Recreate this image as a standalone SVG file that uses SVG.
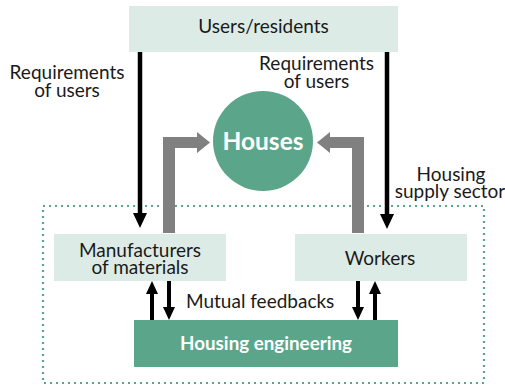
<svg xmlns="http://www.w3.org/2000/svg" width="505" height="386" viewBox="0 0 505 386">
<style>
.t{font-family:Lato,"Open Sans","Liberation Sans",sans-serif;font-size:19px;fill:#1a1a1a}
.tb{font-family:Lato,"Open Sans","Liberation Sans",sans-serif;font-weight:bold;fill:#ffffff}
.light{fill:#DDEBE6}
.dark{fill:#5BA68A}
.blk{stroke:#000;stroke-width:4.5;fill:none}
.fb{stroke:#000;stroke-width:4;fill:none}
.head{fill:#000}
.gray{fill:#808080}
</style>
<rect x="0" y="0" width="505" height="386" fill="#fff"/>
<g id="sector">
<rect x="43" y="206" width="441" height="177" fill="none" stroke="#5BA68A" stroke-width="2.2" stroke-dasharray="2 4"/>
<text class="t" text-anchor="middle"><tspan x="451" y="181">Housing</tspan><tspan x="450" y="198">supply sector</tspan></text>
</g>
<g id="users">
<rect class="light" x="129" y="6" width="269" height="46"/>
<text class="t" x="263.5" y="33" text-anchor="middle">Users/residents</text>
</g>
<g id="houses">
<circle class="dark" cx="263" cy="141" r="50"/>
<text class="tb" x="263" y="150" text-anchor="middle" font-size="24.5">Houses</text>
</g>
<g id="manufacturers">
<rect class="light" x="54" y="234" width="172" height="47"/>
<text class="t" text-anchor="middle"><tspan x="140" y="256.5">Manufacturers</tspan><tspan x="140" y="274">of materials</tspan></text>
</g>
<g id="workers">
<rect class="light" x="295" y="234" width="172" height="47"/>
<text class="t" x="380" y="265" text-anchor="middle">Workers</text>
</g>
<g id="engineering">
<rect class="dark" x="134" y="320" width="264" height="47"/>
<text class="tb" x="266" y="350" text-anchor="middle" font-size="18.8">Housing engineering</text>
</g>
<g id="connectors">
<line class="blk" x1="140" y1="52" x2="140" y2="215"/>
<polygon class="head" points="133,213 147,213 140,228"/>
<line class="blk" x1="387" y1="52" x2="387" y2="216"/>
<polygon class="head" points="380,214 394,214 387,229"/>
<path class="gray" d="M163,233 V137 H197 V132 L210,142.5 L197,153 V148 H175 V233 Z"/>
<path class="gray" d="M364,233 V137 H330 V132 L317,142.5 L330,153 V148 H352 V233 Z"/>
<line class="fb" x1="152" y1="320" x2="152" y2="292"/>
<polygon class="head" points="146,294 158,294 152,281"/>
<line class="fb" x1="169" y1="281" x2="169" y2="309"/>
<polygon class="head" points="163,307 175,307 169,320"/>
<line class="fb" x1="358" y1="281" x2="358" y2="309"/>
<polygon class="head" points="352,307 364,307 358,320"/>
<line class="fb" x1="375" y1="320" x2="375" y2="292"/>
<polygon class="head" points="369,294 381,294 375,281"/>
</g>
<g id="labels">
<text class="t" text-anchor="middle"><tspan x="67" y="78.5">Requirements</tspan><tspan x="67" y="97">of users</tspan></text>
<text class="t" text-anchor="middle"><tspan x="316.5" y="69.5">Requirements</tspan><tspan x="316.5" y="88">of users</tspan></text>
<text class="t" x="186" y="308">Mutual feedbacks</text>
</g>
</svg>
